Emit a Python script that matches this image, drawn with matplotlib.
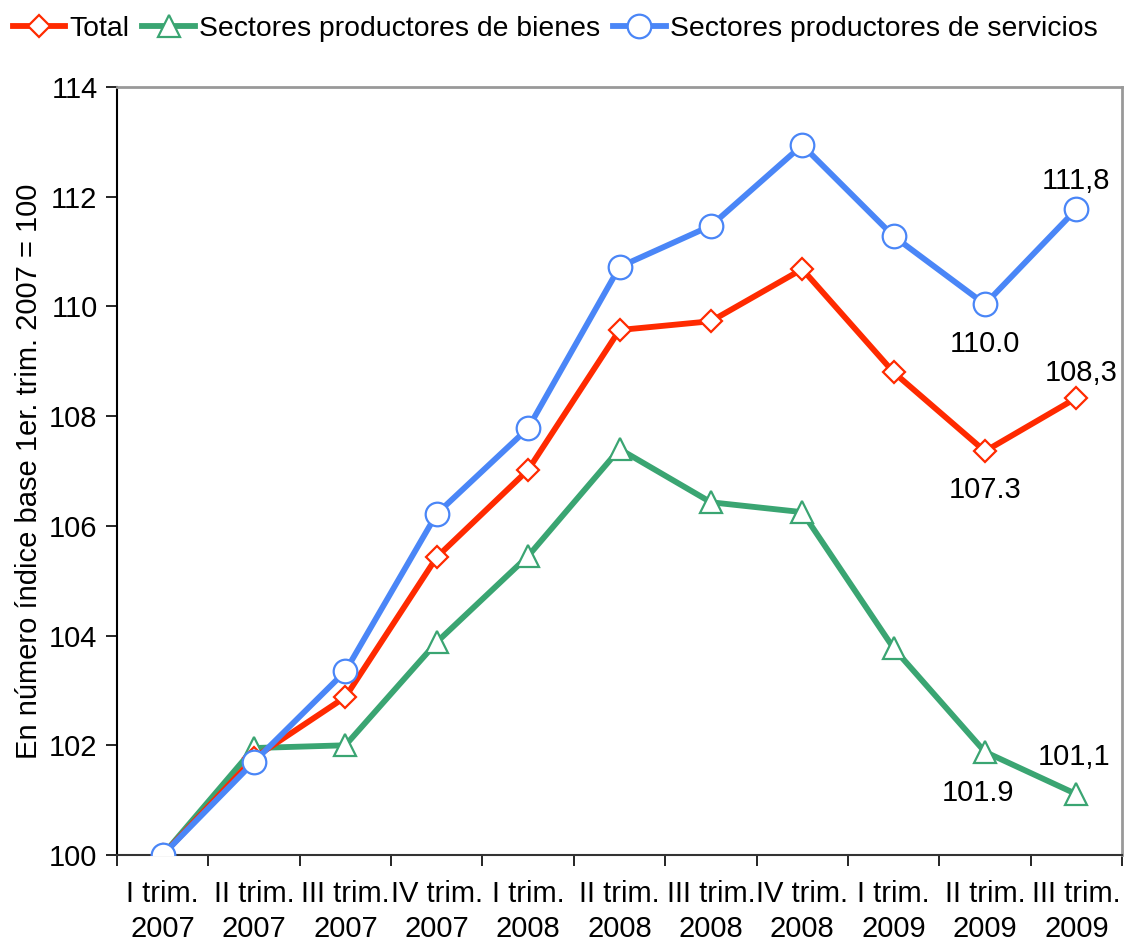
import matplotlib
matplotlib.use('Agg')
from matplotlib import pyplot as plt
import numpy as np

plt.rcParams['font.family'] = ['Liberation Sans', 'DejaVu Sans']

# categorias (trimestres)
trimestres = ["I trim.\n2007", "II trim.\n2007", "III trim.\n2007", "IV trim.\n2007",
              "I trim.\n2008", "II trim.\n2008", "III trim.\n2008", "IV trim.\n2008",
              "I trim.\n2009", "II trim.\n2009", "III trim.\n2009"]

total = [100.0, 101.77, 102.88, 105.43, 107.02, 109.57, 109.73, 110.68, 108.80, 107.36, 108.33]
bienes = [100.0, 101.95, 102.0, 103.88, 105.45, 107.40, 106.43, 106.25, 103.77, 101.88, 101.11]
servicios = [100.0, 101.70, 103.35, 106.22, 107.78, 110.72, 111.47, 112.94, 111.28, 110.04, 111.77]

# etiquetas de valores: (serie, indice, texto, desplazamiento en pixeles)
etiquetas = [
    (servicios, 10, "111,8", (0, 28)),
    (servicios, 9, "110.0", (0, -40)),
    (total, 10, "108,3", (5, 25)),
    (total, 9, "107.3", (0, -39)),
    (bienes, 10, "101,1", (-2, 37)),
    (bienes, 9, "101.9", (-7, -41)),
]

fs = 21

fig = plt.figure(figsize=(11.24, 9.46), dpi=100)
ax = fig.add_axes([117/1124, 1 - 855/946, (1122-117)/1124, (855-87)/946])

x = np.arange(len(trimestres))
lw = 4.2

ax.plot(x, total, color='#ff2a00', lw=lw, marker='D', markersize=11, markerfacecolor='white',
        markeredgecolor='#ff2a00', markeredgewidth=1.6, label='Total', zorder=3)
ax.plot(x, bienes, color='#3aa572', lw=lw, marker='^', markersize=16, markerfacecolor='white',
        markeredgecolor='#3aa572', markeredgewidth=1.6, label='Sectores productores de bienes', zorder=2)
ax.plot(x, servicios, color='#4a86f7', lw=lw, marker='o', markersize=17, markerfacecolor='white',
        markeredgecolor='#4a86f7', markeredgewidth=1.6, label='Sectores productores de servicios', zorder=4)

for serie, i, texto, (dx, dy) in etiquetas:
    ax.annotate(texto, (x[i], serie[i]), xytext=(dx * 0.72, dy * 0.72), textcoords='offset points',
                ha='center', va='center', fontsize=fs)

ax.set_xlim(-0.5, 10.5)
ax.set_ylim(100, 114)
ax.set_yticks(np.arange(100, 115, 2))
ax.tick_params(axis='y', labelsize=fs, direction='out', length=8, width=1.2, pad=6)

# marcas del eje x entre categorias, etiquetas centradas
ax.set_xticks(np.arange(-0.5, 11, 1))
ax.set_xticklabels([])
ax.set_xticks(x, minor=True)
ax.set_xticklabels(trimestres, minor=True, fontsize=fs, linespacing=1.3)
ax.tick_params(axis='x', which='major', direction='out', length=8, width=1.2)
ax.tick_params(axis='x', which='minor', length=0, pad=18)

ax.spines['left'].set_linewidth(1.5)
ax.spines['bottom'].set_color('#333333')
ax.spines['bottom'].set_linewidth(1.5)
ax.spines['top'].set_color('#999999')
ax.spines['top'].set_linewidth(2)
ax.spines['right'].set_color('#999999')
ax.spines['right'].set_linewidth(2)

ax.set_ylabel("En número índice base 1er. trim. 2007 = 100", fontsize=fs, labelpad=4)

fig.legend(loc='upper left', bbox_to_anchor=(0.0, 0.997), ncol=3, frameon=False, fontsize=20.4,
           handlelength=1.85, handletextpad=0.16, columnspacing=0.45, borderaxespad=0.1,
           borderpad=0.35)

plt.savefig('out.png', dpi=100)
